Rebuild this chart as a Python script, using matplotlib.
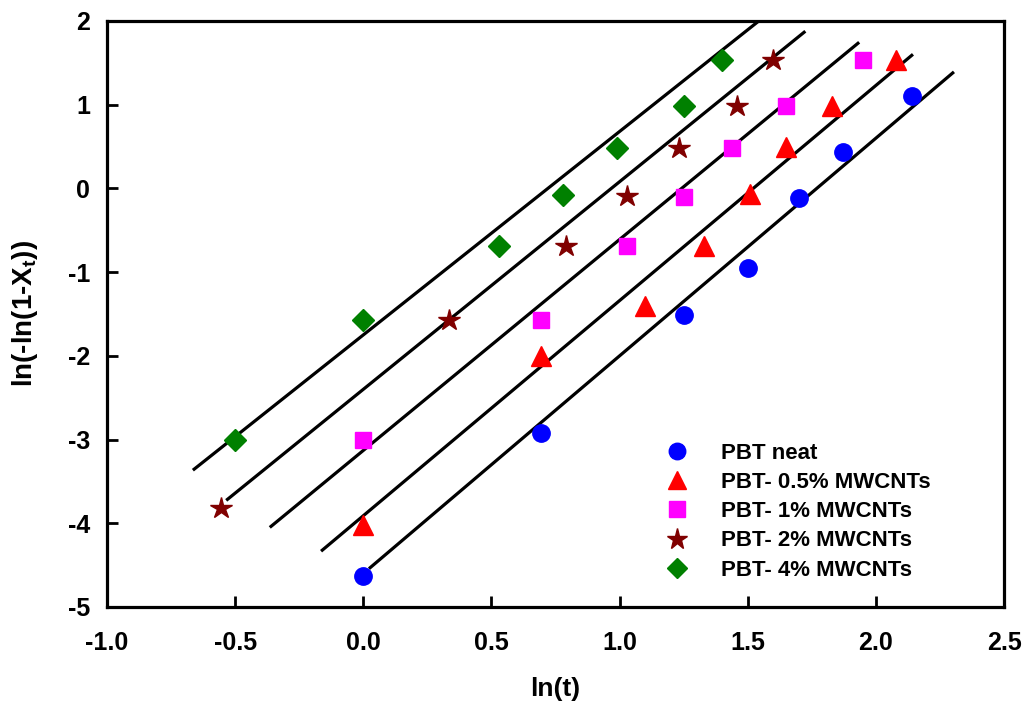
import numpy as np
import matplotlib
matplotlib.use('Agg')
import matplotlib.pyplot as plt

plt.rcParams['font.family'] = ['Liberation Sans', 'DejaVu Sans']
plt.rcParams['font.weight'] = 'bold'
plt.rcParams['axes.unicode_minus'] = False
plt.rcParams['mathtext.fontset'] = 'custom'
plt.rcParams['mathtext.bf'] = 'Liberation Sans:bold'
plt.rcParams['mathtext.rm'] = 'Liberation Sans:bold'

# dados: ln(t) e ln(-ln(1-Xt))
labels = ['PBT neat', 'PBT- 0.5% MWCNTs', 'PBT- 1% MWCNTs',
          'PBT- 2% MWCNTs', 'PBT- 4% MWCNTs']

x_neat = [0.0, 0.695, 1.25, 1.50, 1.70, 1.87, 2.14]
y_neat = [-4.63, -2.92, -1.51, -0.95, -0.12, 0.44, 1.11]

x_05 = [0.0, 0.695, 1.10, 1.33, 1.51, 1.65, 1.83, 2.08]
y_05 = [-4.02, -2.0, -1.40, -0.69, -0.07, 0.49, 0.98, 1.54]

x_1 = [0.0, 0.695, 1.03, 1.25, 1.44, 1.65, 1.95]
y_1 = [-3.01, -1.57, -0.69, -0.10, 0.48, 0.98, 1.54]

x_2 = [-0.555, 0.336, 0.79, 1.03, 1.23, 1.46, 1.60]
y_2 = [-3.82, -1.57, -0.69, -0.09, 0.48, 0.98, 1.54]

x_4 = [-0.50, 0.0, 0.53, 0.78, 0.99, 1.25, 1.40]
y_4 = [-3.01, -1.57, -0.69, -0.08, 0.48, 0.98, 1.54]

# retas ajustadas (inclinacao n, intercepto, intervalo em x)
slopes = [2.60, 2.57, 2.52, 2.48, 2.43]
intercepts = [-4.60, -3.91, -3.13, -2.40, -1.75]
fit_x0 = [0.027, -0.16, -0.36, -0.53, -0.66]
fit_x1 = [2.30, 2.14, 1.93, 1.72, 1.54]

xs = [x_neat, x_05, x_1, x_2, x_4]
ys = [y_neat, y_05, y_1, y_2, y_4]
markers = ['o', '^', 's', '*', 'D']
sizes = [12.5, 14, 11.5, 16, 11]
colors = ['#0000FF', '#FF0000', '#FF00FF', '#800000', '#008000']

fig = plt.figure(figsize=(10.29, 7.04), dpi=100)
ax = fig.add_axes([107/1029, 1 - 607/704, 897/1029, 586/704])

# retas primeiro, pontos por cima
for a, b, x0, x1 in zip(slopes, intercepts, fit_x0, fit_x1):
    xl = np.array([x0, x1])
    ax.plot(xl, a*xl + b, color='black', lw=2.3, zorder=2)

for x, y, m, s, c, lab in zip(xs, ys, markers, sizes, colors, labels):
    ax.plot(x, y, linestyle='none', marker=m, markersize=s, color=c,
            markeredgecolor=c, label=lab, zorder=3)

ax.set_xlim(-1.0, 2.5)
ax.set_ylim(-5, 2)
ax.set_xticks(np.arange(-1.0, 2.51, 0.5))
ax.set_yticks(np.arange(-5, 3, 1))
ax.set_xticklabels(['%.1f' % v for v in np.arange(-1.0, 2.51, 0.5)])

for sp in ax.spines.values():
    sp.set_linewidth(2.3)

ax.tick_params(direction='in', length=8, width=2, labelsize=18, pad=12)
ax.tick_params(axis='x', pad=17)
for lbl in ax.get_xticklabels() + ax.get_yticklabels():
    lbl.set_fontweight('bold')

ax.set_xlabel('ln(t)', fontsize=19, fontweight='bold', labelpad=16)
ax.set_ylabel(r'ln(-ln(1-X$_\mathbf{t}$))', fontsize=20, fontweight='bold',
              labelpad=20)

leg = ax.legend(loc='lower left', bbox_to_anchor=(0.611, 0.045), frameon=False,
                fontsize=16, handletextpad=0.95, labelspacing=0.37,
                borderaxespad=0, borderpad=0, markerscale=0.95)
for t in leg.get_texts():
    t.set_fontweight('bold')

fig.savefig('out.png', dpi=100)
